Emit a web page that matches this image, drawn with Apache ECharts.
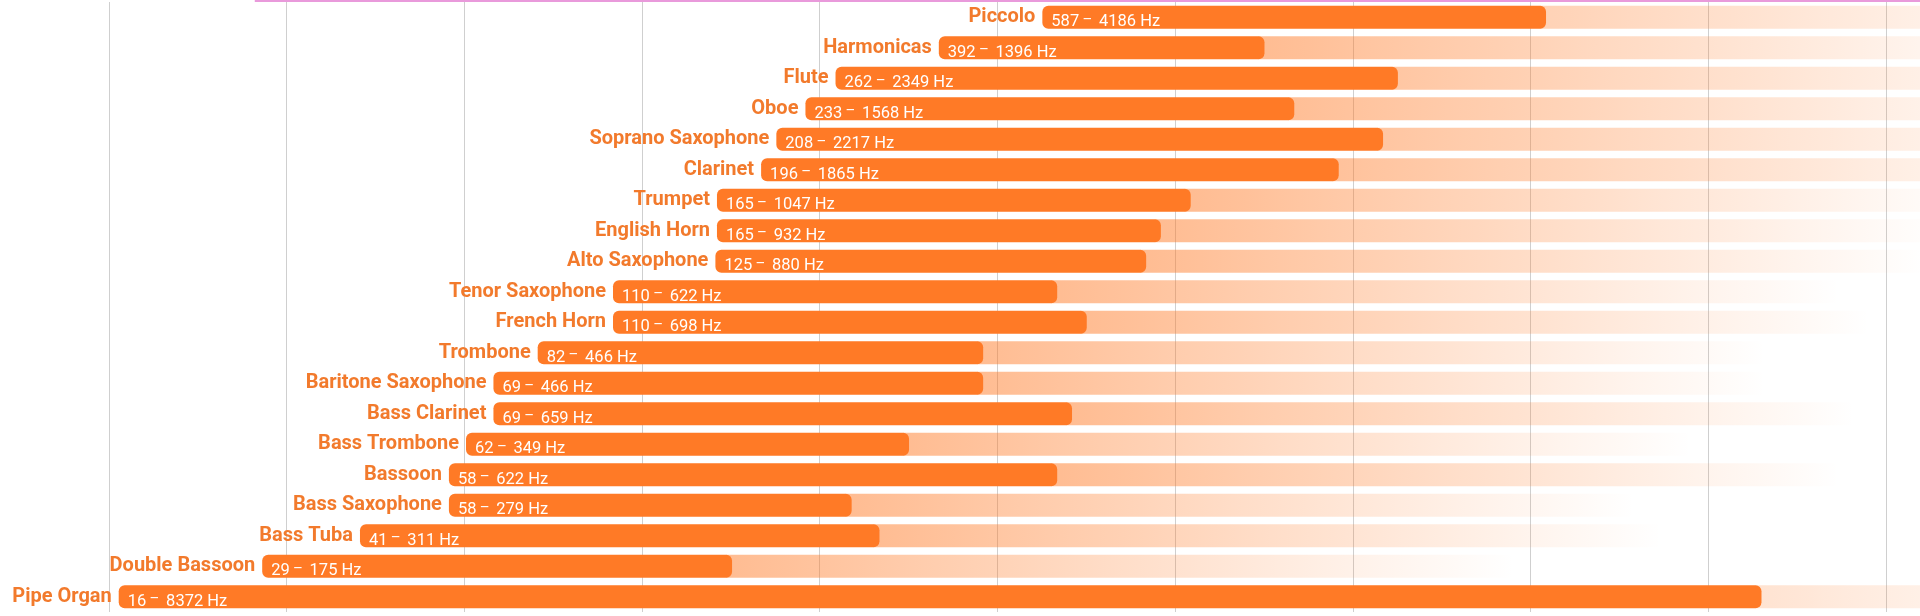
<!DOCTYPE html>
<html><head><meta charset="utf-8">
<script src="https://cdn.jsdelivr.net/npm/echarts@6/dist/echarts.min.js"></script>
<style>html,body{margin:0;padding:0;background:#fff}#c{width:1920px;height:616px}</style>
</head><body><div id="c"></div>
<script>
// ---- data (top row first) ----
const instruments = ['Piccolo','Harmonicas','Flute','Oboe','Soprano Saxophone','Clarinet','Trumpet','English Horn','Alto Saxophone','Tenor Saxophone','French Horn','Trombone','Baritone Saxophone','Bass Clarinet','Bass Trombone','Bassoon','Bass Saxophone','Bass Tuba','Double Bassoon','Pipe Organ'];
// range printed in each bar's label (Hz)
const labelLowHz  = [587,392,262,233,208,196,165,165,125,110,110,82,69,69,62,58,58,41,29,16];
const labelHighHz = [4186,1396,2349,1568,2217,1865,1047,932,880,622,698,466,466,659,349,622,279,311,175,8372];
// extent of each drawn bar (Hz)
const barLowHz  = [587,392,262,233,208,196,165,165,164,110,110,82,69,69,62,58,58,41,28,16];
const barHighHz = [4186,1396,2349,1568,2217,1865,1047,932,880,622,698,466,466,659,349,622,279,311,175,9700];
// pink band partly visible at the top edge (Hz)
const topBandHz = [27.2, 18000];
// frequency range of the x axis (Hz)
const axisMinHz = 10.07, axisMaxHz = 18000;
// the octave grid lines sit slightly below the powers of two (ratio)
const gridLineRatio = 0.962;

const L2 = Math.log2;
const ORANGE = [255,122,38];
const FADE_OCT = 4.4;

const barData = instruments.map((n,i)=>[L2(barLowHz[i]), L2(barHighHz[i]), i]);

function rowRender(params, api){
  const i = api.value(2);
  const cs = params.coordSys;
  const p0 = api.coord([api.value(0), i]);
  const p1 = api.coord([api.value(1), i]);
  const band = api.size([0,1])[1];
  const h = band*0.755;
  const yc = p0[1];
  const y = yc - h/2;
  const xs = p0[0], xe = p1[0];
  const xf = api.coord([api.value(1)+FADE_OCT, i])[0];
  const right = Math.min(xf, cs.x+cs.width);
  const fadeStart = xe - 6;
  const stops = [];
  const N = 12;
  for (let k=0;k<=N;k++){
    const x = fadeStart + (right-fadeStart)*k/N;
    const rowA = 0.5*Math.max(0, Math.min(1, 1-(x-xe)/(xf-xe)));
    const t = (x-cs.x)/cs.width;
    const gA = t<0.66 ? 0.5 : 0.5*Math.max(0,1-(t-0.66)/0.44);
    const a = Math.min(rowA, gA);
    stops.push({offset:k/N, color:`rgba(${ORANGE[0]},${ORANGE[1]},${ORANGE[2]},${a.toFixed(3)})`});
  }
  const idx = params.dataIndex;
  return {type:'group', children:[
    {type:'rect', shape:{x:fadeStart, y:y, width:Math.max(0,right-fadeStart), height:h},
     style:{fill:{type:'linear', x:0,y:0,x2:1,y2:0, colorStops:stops}}},
    {type:'rect', shape:{x:xs, y:y, width:xe-xs, height:h, r:6},
     style:{fill:`rgb(${ORANGE.join(',')})`}},
    {type:'text', x: xs-7, y: yc,
     style:{text: instruments[idx], fill:'#F27A2C', font:'bold 20px Roboto', align:'right', verticalAlign:'middle'}},
    {type:'text', x: xs+9, y: yc+5,
     style:{text: `{v|${labelLowHz[idx]}} {d|–}  {v|${labelHighHz[idx]} Hz}`, align:'left', verticalAlign:'middle',
       rich:{
         v:{fontSize:16.5, fontFamily:'Roboto', fill:'#fff', lineHeight:20},
         d:{fontSize:15, fontFamily:'Roboto', fill:'#fff', lineHeight:12, verticalAlign:'top'}
       }}}
  ]};
}

function topRender(params, api){
  const cs = params.coordSys;
  const x0 = api.coord([api.value(0), 0])[0];
  const x1 = Math.min(api.coord([api.value(1), 0])[0], cs.x+cs.width);
  return {type:'rect', shape:{x:x0, y:cs.y-2, width:x1-x0, height:2}, style:{fill:'#E99ADB'}};
}

const chart = echarts.init(document.getElementById('c'), null, {renderer:'canvas'});
chart.setOption({
  animation:false,
  backgroundColor:'#fff',
  grid:{left:0, right:0, top:2, bottom:4},
  xAxis:[
    {type:'value', min:L2(axisMinHz), max:L2(axisMaxHz),
      axisLine:{show:false}, axisTick:{show:false}, axisLabel:{show:false}, splitLine:{show:false}},
    {type:'value', position:'bottom', min:L2(axisMinHz/gridLineRatio), max:L2(axisMaxHz/gridLineRatio), splitNumber:11,
      axisLine:{show:false}, axisTick:{show:false}, axisLabel:{show:false},
      splitLine:{show:true, showMinLine:false, showMaxLine:false, lineStyle:{color:'#cfcfcf', width:1}}}
  ],
  yAxis:{type:'category', data:instruments, inverse:true, show:false},
  series:[
    {type:'custom', xAxisIndex:0, renderItem:rowRender, data:barData, encode:{x:[0,1], y:2}, clip:false},
    {type:'custom', xAxisIndex:0, renderItem:topRender, data:[[L2(topBandHz[0]), L2(topBandHz[1])]], encode:{x:[0,1]}, clip:false}
  ]
});
</script></body></html>
